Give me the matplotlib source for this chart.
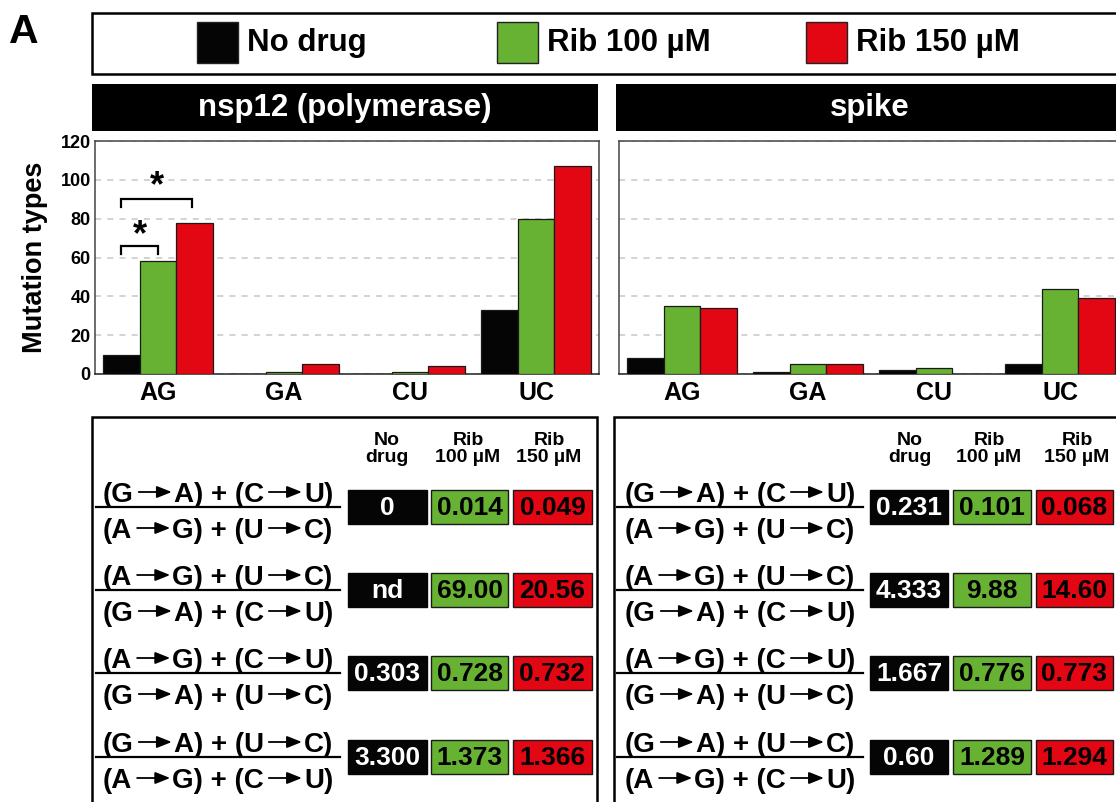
import matplotlib
matplotlib.use("Agg")
import matplotlib.pyplot as plt
import numpy as np
from matplotlib.patches import Rectangle, FancyArrowPatch
from matplotlib.lines import Line2D

plt.rcParams['font.family'] = ['Liberation Sans', 'DejaVu Sans']
plt.rcParams['font.weight'] = 'bold'

# ---- data ----
mutation_types = ["AG", "GA", "CU", "UC"]
conditions = ["No drug", "Rib 100 µM", "Rib 150 µM"]
condition_colors = ["#050505", "#67B232", "#E30613"]

nsp12_no_drug = [10, 0, 0, 33]
nsp12_rib100 = [58, 1, 1, 80]
nsp12_rib150 = [78, 5, 4, 107]

spike_no_drug = [8, 1, 2, 5]
spike_rib100 = [35, 5, 3, 44]
spike_rib150 = [34, 5, 0, 39]

y_ticks = [0, 20, 40, 60, 80, 100, 120]

ratio_numerators = ["(G → A) + (C → U)", "(A → G) + (U → C)",
                    "(A → G) + (C → U)", "(G → A) + (U → C)"]
ratio_denominators = ["(A → G) + (U → C)", "(G → A) + (C → U)",
                      "(G → A) + (U → C)", "(A → G) + (C → U)"]
table_headers = ["No\ndrug", "Rib\n100 µM", "Rib\n150 µM"]

nsp12_ratios = [["0", "0.014", "0.049"],
                ["nd", "69.00", "20.56"],
                ["0.303", "0.728", "0.732"],
                ["3.300", "1.373", "1.366"]]
spike_ratios = [["0.231", "0.101", "0.068"],
                ["4.333", "9.88", "14.60"],
                ["1.667", "0.776", "0.773"],
                ["0.60", "1.289", "1.294"]]

# ---- figure in pixel layout ----
W, H = 1116, 802
fig = plt.figure(figsize=(W / 100, H / 100), dpi=100)
renderer = fig.canvas.get_renderer()


def fx(x):
    return x / W


def fy(y):
    return 1 - y / H


def rect(x0, y0, x1, y1, **kw):
    r = Rectangle((fx(x0), fy(y1)), fx(x1) - fx(x0), fy(y0) - fy(y1),
                  transform=fig.transFigure, clip_on=False, **kw)
    fig.add_artist(r)
    return r


def text(x, y, s, **kw):
    return fig.text(fx(x), fy(y), s, **kw)


FRAC_SIZE = 20
ARROW_SLOT = 40


def text_width(s, size):
    t = fig.text(0, 0, s, fontsize=size, fontweight='bold')
    w = t.get_window_extent(renderer).width
    t.remove()
    return w


def substitution_expr(xc, baseline, s, size=FRAC_SIZE):
    """Write an expression like '(G → A) + (C → U)' centred on xc with drawn arrows."""
    pieces = s.split(" → ")
    widths = [text_width(p, size) for p in pieces]
    total = sum(widths) + ARROW_SLOT * (len(pieces) - 1)
    cur = xc - total / 2
    arrow_y = baseline - 0.36 * size * 100 / 72
    for i, (p, w) in enumerate(zip(pieces, widths)):
        text(cur, baseline, p, fontsize=size, fontweight='bold',
             ha='left', va='baseline')
        cur += w
        if i < len(pieces) - 1:
            a = FancyArrowPatch((fx(cur + 5), fy(arrow_y)),
                                (fx(cur + ARROW_SLOT - 2), fy(arrow_y)),
                                transform=fig.transFigure,
                                arrowstyle='-|>,head_length=0.5,head_width=0.2',
                                mutation_scale=18, linewidth=1.3,
                                color='black', shrinkA=0, shrinkB=0)
            fig.add_artist(a)
            cur += ARROW_SLOT


# panel letter
text(9, 43, "A", fontsize=29.5, fontweight='bold', ha='left', va='baseline')

# legend box
rect(92, 13, 1130, 74, facecolor='white', edgecolor='black', linewidth=1.8)
legend_x = [197, 497, 806]
for lx, lab, col in zip(legend_x, conditions, condition_colors):
    rect(lx, 22, lx + 41, 63, facecolor=col, edgecolor='#222222', linewidth=1.0)
    text(lx + 50, 43, lab, fontsize=22.5, fontweight='bold', ha='left', va='center')

# panel header bars
headers = [("nsp12 (polymerase)", 92, 598), ("spike", 616, 1123)]
for label, x0, x1 in headers:
    rect(x0, 84, x1, 131, facecolor='black', edgecolor='none')
    text((x0 + x1) / 2, 108, label, fontsize=22.5, fontweight='bold',
         color='white', ha='center', va='center')

# ---- bar charts ----
bar_w = 0.29
x = np.arange(len(mutation_types))
panels = [
    (95, [nsp12_no_drug, nsp12_rib100, nsp12_rib150], True),
    (619, [spike_no_drug, spike_rib100, spike_rib150], False),
]
axes = []
for left, series, show_y in panels:
    ax = fig.add_axes([fx(left), fy(374), 504 / W, (374 - 141) / H])
    for i, (vals, col) in enumerate(zip(series, condition_colors)):
        ax.bar(x + (i - 1) * bar_w, vals, width=bar_w, color=col,
               edgecolor='#1a1a1a', linewidth=0.9, zorder=3)
    ax.set_xlim(-0.5, 3.5)
    ax.set_ylim(0, 120)
    ax.set_yticks(y_ticks)
    ax.set_xticks(x)
    ax.set_xticklabels(mutation_types, fontsize=18, fontweight='bold')
    ax.tick_params(axis='both', length=0)
    ax.tick_params(axis='x', pad=5)
    ax.tick_params(axis='y', pad=3)
    if show_y:
        ax.set_yticklabels([str(t) for t in y_ticks], fontsize=13, fontweight='bold')
    else:
        ax.set_yticklabels([])
    ax.yaxis.grid(True, linestyle=(0, (4, 4)), color='#c8c8c8', linewidth=1.1, zorder=0)
    for sp in ax.spines.values():
        sp.set_color('#444444')
        sp.set_linewidth(1.1)
    ax.spines['bottom'].set_color('#222222')
    axes.append(ax)

fig.text(fx(35), fy(257), "Mutation types", rotation=90, fontsize=19.5,
         fontweight='bold', ha='center', va='center')

# significance brackets on nsp12 AG
ax0 = axes[0]
brackets = [(-bar_w, 0.0, 61.8, 66.1, 71.0), (-bar_w, bar_w - 0.02, 85.8, 90.1, 96.5)]
for xa, xb, ylo, yhi, ystar in brackets:
    ax0.plot([xa, xa, xb, xb], [ylo, yhi, yhi, ylo], color='black',
             linewidth=1.6, zorder=4, solid_joinstyle='miter')
    ax0.text((xa + xb) / 2, ystar, "*", fontsize=26, fontweight='bold',
             ha='center', va='center', zorder=5)

# ---- ratio tables ----
row_lines = [507, 590, 673, 757]
tables = [
    dict(x0=92, x1=597, frac=(96, 340), boxes=[(348, 427), (431, 508), (513, 592)],
         heads=[387, 468, 549], values=nsp12_ratios),
    dict(x0=614, x1=1130, frac=(617, 863), boxes=[(870, 948), (953, 1031), (1036, 1113)],
         heads=[910, 989, 1077], values=spike_ratios),
]
for tb in tables:
    rect(tb['x0'], 417, tb['x1'], 820, facecolor='none', edgecolor='black', linewidth=1.8)
    for hx, hl in zip(tb['heads'], table_headers):
        text(hx, 449, hl, fontsize=14, fontweight='bold', ha='center', va='center',
             linespacing=0.95)
    fa, fb = tb['frac']
    fc = (fa + fb) / 2
    for r, yl in enumerate(row_lines):
        fig.add_artist(Line2D([fx(fa), fx(fb)], [fy(yl), fy(yl)], color='black',
                              linewidth=1.6, transform=fig.transFigure))
        substitution_expr(fc, yl - 5, ratio_numerators[r])
        substitution_expr(fc, yl + 31, ratio_denominators[r])
        for c, ((bx0, bx1), col) in enumerate(zip(tb['boxes'], condition_colors)):
            rect(bx0, yl - 17, bx1, yl + 17, facecolor=col,
                 edgecolor='#1a1a1a' if c else col, linewidth=1.0)
            text((bx0 + bx1) / 2, yl + 1, tb['values'][r][c], fontsize=19,
                 fontweight='bold', ha='center', va='center',
                 color='white' if c == 0 else 'black')

fig.savefig("out.png", dpi=100)
